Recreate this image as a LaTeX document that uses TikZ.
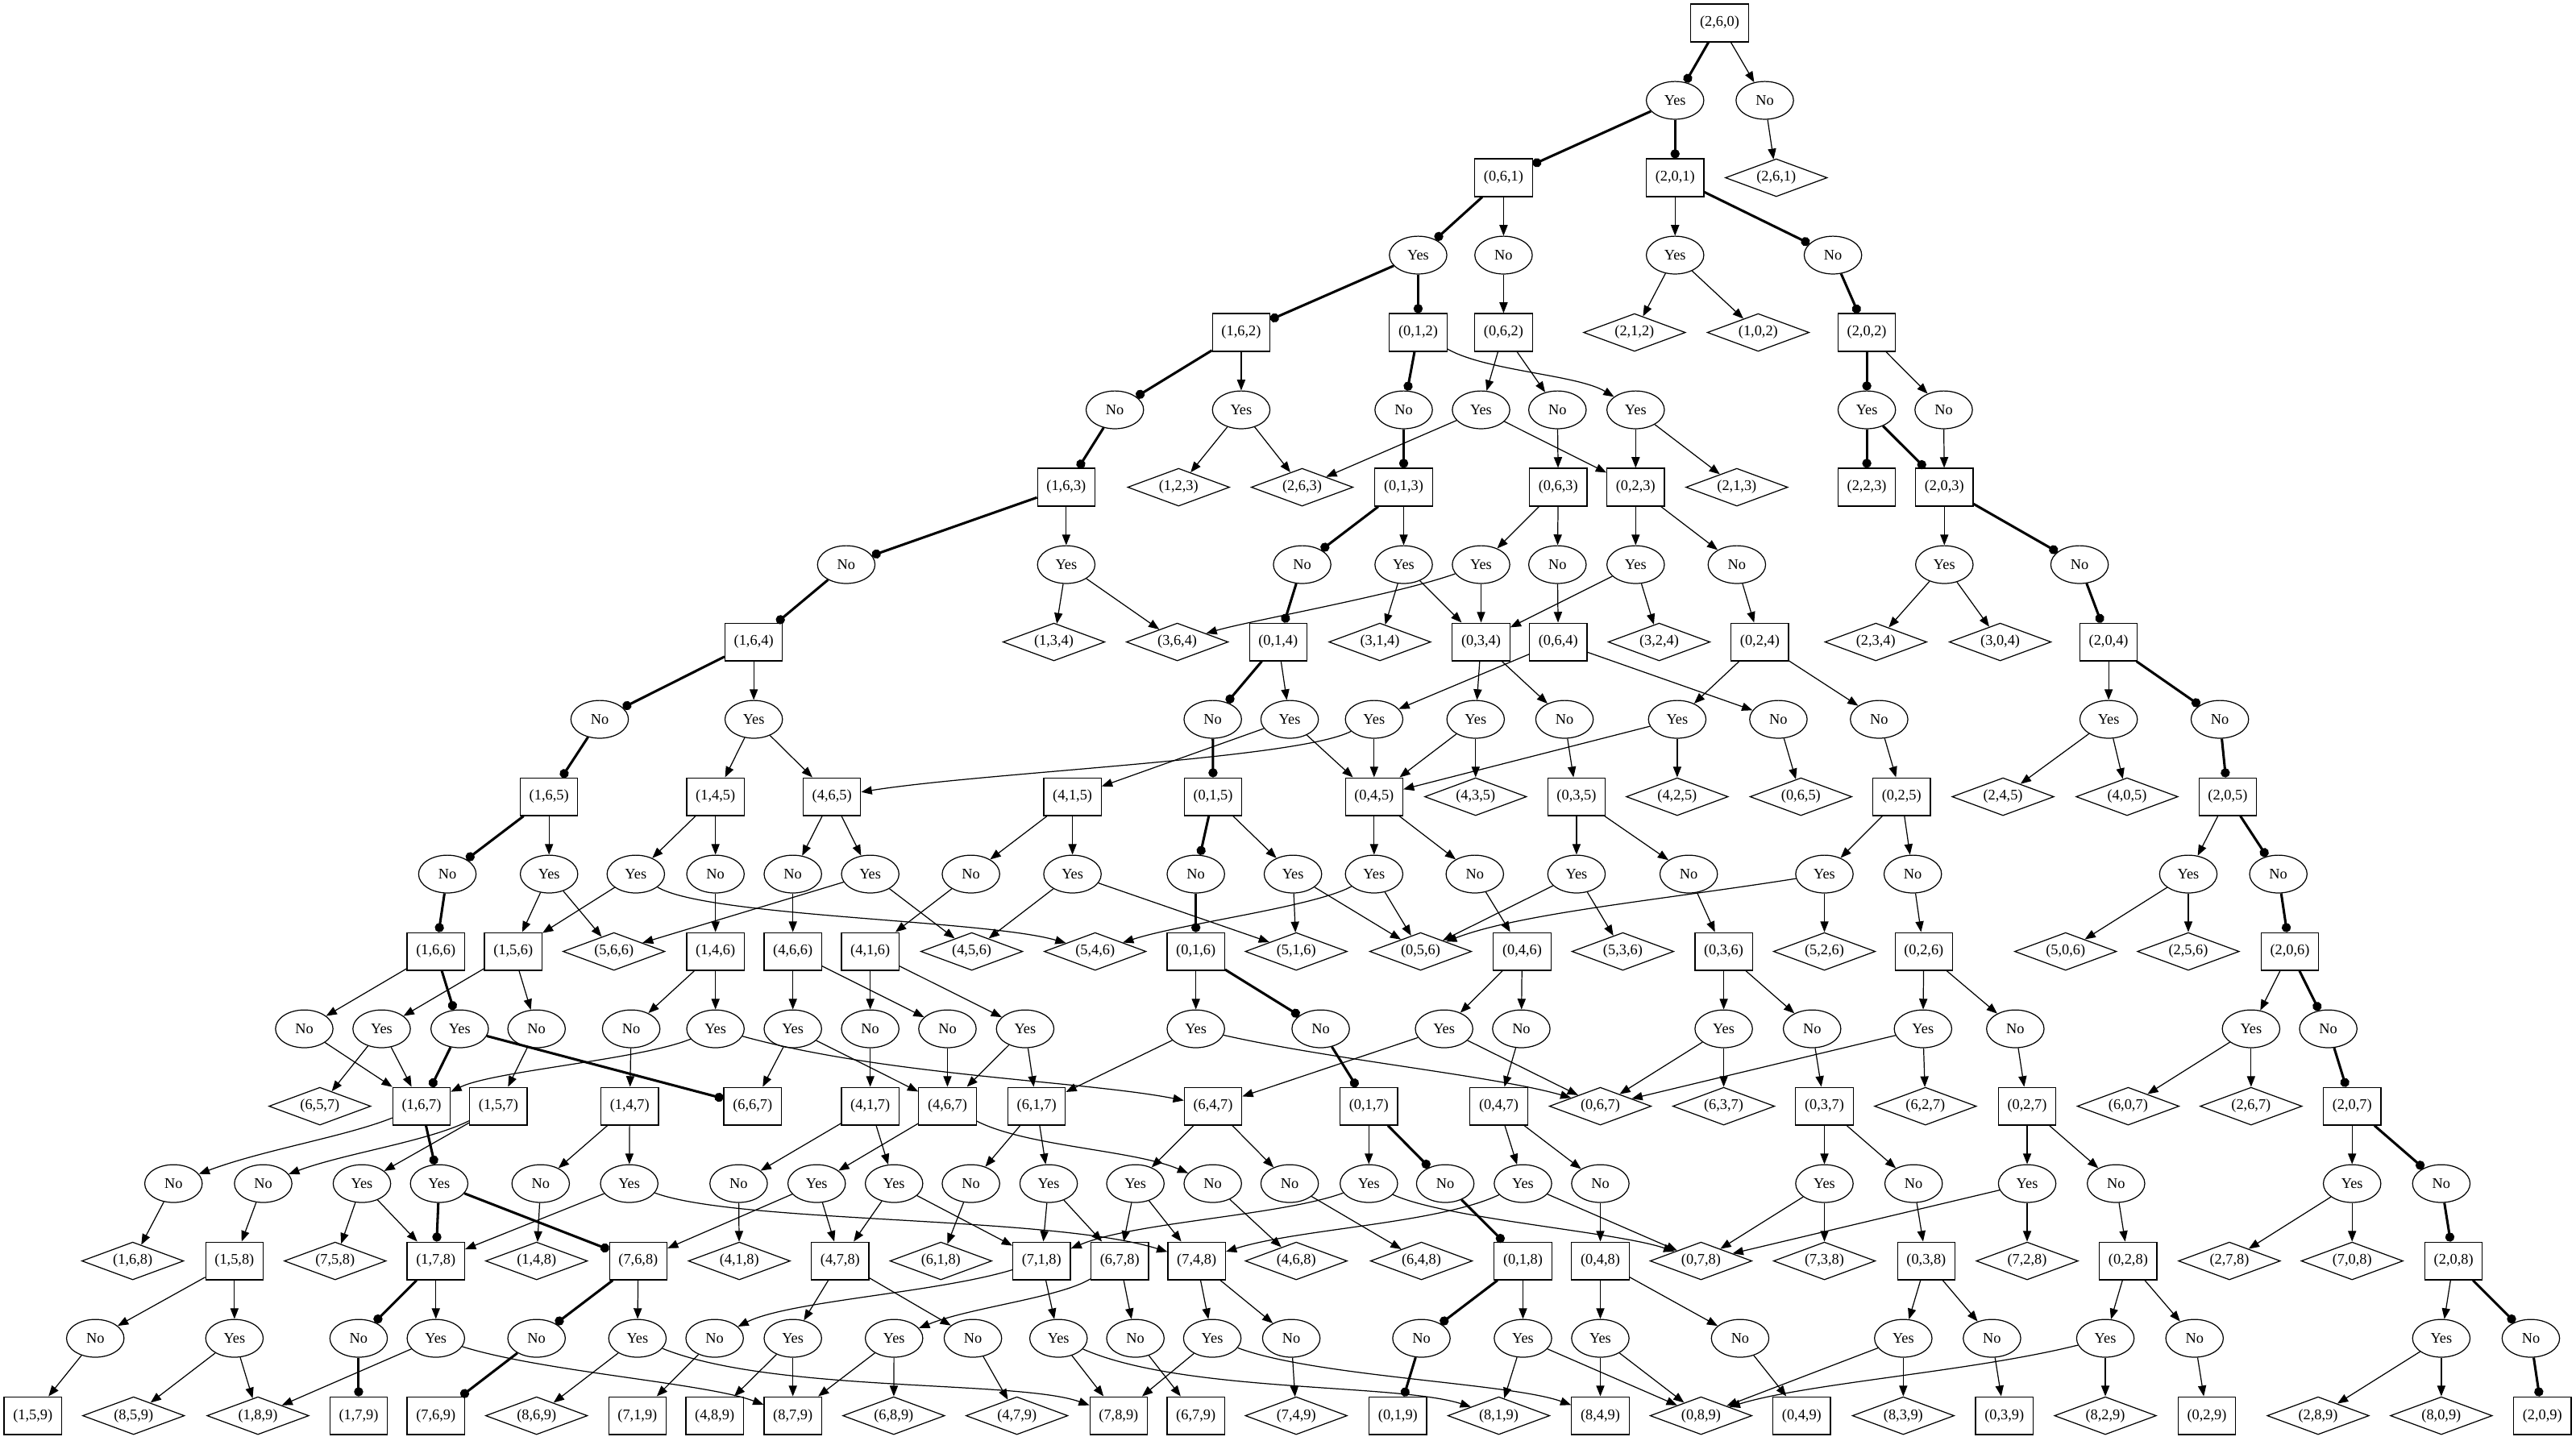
\documentclass[tikz,border=0pt]{standalone}
\usepackage{fontspec}
\setmainfont{Liberation Serif}
\usetikzlibrary{shapes.geometric,arrows.meta}
\begin{document}
\begin{tikzpicture}[x=1pt,y=-1pt,
        font=\fontsize{9}{10}\selectfont,
        statebox/.style={draw,line width=0.6pt,rectangle,minimum width=35pt,minimum height=23pt,inner sep=1pt},
        answer/.style={draw,line width=0.6pt,ellipse,minimum width=35pt,minimum height=23pt,inner sep=0pt},
        leaf/.style={draw,line width=0.6pt,diamond,aspect=2.7,minimum width=62pt,minimum height=23pt,inner sep=0pt},
        move/.style={line width=0.6pt,-{Triangle[length=6.5pt,width=5pt]}},
        bestmove/.style={line width=1.5pt,-{Circle[length=5.5pt]}}]
        \fill[white] (0,0) rectangle (1568,877);
        \node[statebox] (S260) at (1046.7,14) {(2,6,0)};
        \node[answer] (Y260) at (1019.6,61.1) {Yes};
        \node[answer] (N260) at (1074.2,61.1) {No};
        \node[statebox] (S061) at (915.2,108.2) {(0,6,1)};
        \node[statebox] (S201) at (1019.6,108.2) {(2,0,1)};
        \node[leaf] (S261) at (1081.2,108.2) {(2,6,1)};
        \node[answer] (Y061) at (863.2,155.3) {Yes};
        \node[answer] (N061) at (915.2,155.3) {No};
        \node[answer] (Y201) at (1019.6,155.3) {Yes};
        \node[answer] (N201) at (1115.7,155.3) {No};
        \node[statebox] (S162) at (755.5,202.4) {(1,6,2)};
        \node[statebox] (S012) at (863.2,202.4) {(0,1,2)};
        \node[statebox] (S062) at (915.2,202.4) {(0,6,2)};
        \node[leaf] (S212) at (994.9,202.4) {(2,1,2)};
        \node[leaf] (S102) at (1070.2,202.4) {(1,0,2)};
        \node[statebox] (S202) at (1136.3,202.4) {(2,0,2)};
        \node[answer] (N162) at (678.6,249.5) {No};
        \node[answer] (Y162) at (755.5,249.5) {Yes};
        \node[answer] (N012) at (854.4,249.5) {No};
        \node[answer] (Y062) at (901.5,249.5) {Yes};
        \node[answer] (N062) at (948,249.5) {No};
        \node[answer] (Y012) at (995.6,249.5) {Yes};
        \node[answer] (Y202) at (1136.3,249.5) {Yes};
        \node[answer] (N202) at (1183.1,249.5) {No};
        \node[statebox] (S163) at (649,296.6) {(1,6,3)};
        \node[leaf] (S123) at (717.4,296.6) {(1,2,3)};
        \node[leaf] (S263) at (792.6,296.6) {(2,6,3)};
        \node[statebox] (S013) at (854.4,296.6) {(0,1,3)};
        \node[statebox] (S063) at (948.5,296.6) {(0,6,3)};
        \node[statebox] (S023) at (995.6,296.6) {(0,2,3)};
        \node[leaf] (S213) at (1057.2,296.6) {(2,1,3)};
        \node[statebox] (S223) at (1136.3,296.6) {(2,2,3)};
        \node[statebox] (S203) at (1183.5,296.6) {(2,0,3)};
        \node[answer] (N163) at (515.1,343.7) {No};
        \node[answer] (Y163) at (649,343.7) {Yes};
        \node[answer] (N013) at (792.6,343.7) {No};
        \node[answer] (Y013) at (854.4,343.7) {Yes};
        \node[answer] (Y063) at (901.5,343.7) {Yes};
        \node[answer] (N063) at (948,343.7) {No};
        \node[answer] (Y023) at (995.6,343.7) {Yes};
        \node[answer] (N023) at (1057.2,343.7) {No};
        \node[answer] (Y203) at (1183.5,343.7) {Yes};
        \node[answer] (N203) at (1265.8,343.7) {No};
        \node[statebox] (S164) at (458.8,390.8) {(1,6,4)};
        \node[leaf] (S134) at (641.5,390.8) {(1,3,4)};
        \node[leaf] (S364) at (716.6,390.8) {(3,6,4)};
        \node[statebox] (S014) at (778,390.8) {(0,1,4)};
        \node[leaf] (S314) at (839.9,390.8) {(3,1,4)};
        \node[statebox] (S034) at (901.5,390.8) {(0,3,4)};
        \node[statebox] (S064) at (948.5,390.8) {(0,6,4)};
        \node[leaf] (S324) at (1009.9,390.8) {(3,2,4)};
        \node[statebox] (S024) at (1071.2,390.8) {(0,2,4)};
        \node[leaf] (S234) at (1141.8,390.8) {(2,3,4)};
        \node[leaf] (S304) at (1217.5,390.8) {(3,0,4)};
        \node[statebox] (S204) at (1283.5,390.8) {(2,0,4)};
        \node[answer] (N164) at (365,437.9) {No};
        \node[answer] (Y164) at (458.8,437.9) {Yes};
        \node[answer] (N014) at (738.2,437.9) {No};
        \node[answer] (Y014) at (785,437.9) {Yes};
        \node[answer] (Y064) at (836.4,437.9) {Yes};
        \node[answer] (Y034) at (898.2,437.9) {Yes};
        \node[answer] (N034) at (952.3,437.9) {No};
        \node[answer] (Y024) at (1020.9,437.9) {Yes};
        \node[answer] (N064) at (1082.5,437.9) {No};
        \node[answer] (N024) at (1143.8,437.9) {No};
        \node[answer] (Y204) at (1283.5,437.9) {Yes};
        \node[answer] (N204) at (1351.2,437.9) {No};
        \node[statebox] (S165) at (334.2,485) {(1,6,5)};
        \node[statebox] (S145) at (435.5,485) {(1,4,5)};
        \node[statebox] (S465) at (506.4,485) {(4,6,5)};
        \node[statebox] (S415) at (652.8,485) {(4,1,5)};
        \node[statebox] (S015) at (738.4,485) {(0,1,5)};
        \node[statebox] (S045) at (836.4,485) {(0,4,5)};
        \node[leaf] (S435) at (898.2,485) {(4,3,5)};
        \node[statebox] (S035) at (959.6,485) {(0,3,5)};
        \node[leaf] (S425) at (1020.9,485) {(4,2,5)};
        \node[leaf] (S065) at (1096.2,485) {(0,6,5)};
        \node[statebox] (S025) at (1157.5,485) {(0,2,5)};
        \node[leaf] (S245) at (1219.2,485) {(2,4,5)};
        \node[leaf] (S405) at (1294.7,485) {(4,0,5)};
        \node[statebox] (S205) at (1356,485) {(2,0,5)};
        \node[answer] (N165) at (272.3,532.1) {No};
        \node[answer] (Y165) at (334.2,532.1) {Yes};
        \node[answer] (Y145) at (387,532.1) {Yes};
        \node[answer] (N145) at (435.5,532.1) {No};
        \node[answer] (N465) at (482.6,532.1) {No};
        \node[answer] (Y465) at (529.7,532.1) {Yes};
        \node[answer] (N415) at (591,532.1) {No};
        \node[answer] (Y415) at (652.8,532.1) {Yes};
        \node[answer] (N015) at (727.9,532.1) {No};
        \node[answer] (Y015) at (787,532.1) {Yes};
        \node[answer] (Y045) at (836.4,532.1) {Yes};
        \node[answer] (N045) at (897.7,532.1) {No};
        \node[answer] (Y035) at (959.6,532.1) {Yes};
        \node[answer] (N035) at (1027.9,532.1) {No};
        \node[answer] (Y025) at (1110.5,532.1) {Yes};
        \node[answer] (N025) at (1164.3,532.1) {No};
        \node[answer] (Y205) at (1332,532.1) {Yes};
        \node[answer] (N205) at (1386.8,532.1) {No};
        \node[statebox] (S166) at (265.3,579.2) {(1,6,6)};
        \node[statebox] (S156) at (312.4,579.2) {(1,5,6)};
        \node[leaf] (S566) at (373.7,579.2) {(5,6,6)};
        \node[statebox] (S146) at (435.5,579.2) {(1,4,6)};
        \node[statebox] (S466) at (482.6,579.2) {(4,6,6)};
        \node[statebox] (S416) at (529.7,579.2) {(4,1,6)};
        \node[leaf] (S456) at (591.5,579.2) {(4,5,6)};
        \node[leaf] (S546) at (666.6,579.2) {(5,4,6)};
        \node[statebox] (S016) at (727.9,579.2) {(0,1,6)};
        \node[leaf] (S516) at (789,579.2) {(5,1,6)};
        \node[leaf] (S056) at (864.7,579.2) {(0,5,6)};
        \node[statebox] (S046) at (926.5,579.2) {(0,4,6)};
        \node[leaf] (S536) at (987.8,579.2) {(5,3,6)};
        \node[statebox] (S036) at (1049.2,579.2) {(0,3,6)};
        \node[leaf] (S526) at (1110.5,579.2) {(5,2,6)};
        \node[statebox] (S026) at (1171,579.2) {(0,2,6)};
        \node[leaf] (S506) at (1257.3,579.2) {(5,0,6)};
        \node[leaf] (S256) at (1332,579.2) {(2,5,6)};
        \node[statebox] (S206) at (1393.8,579.2) {(2,0,6)};
        \node[answer] (N166) at (185.2,626.3) {No};
        \node[answer] (Y156) at (232.3,626.3) {Yes};
        \node[answer] (Y166) at (279.8,626.3) {Yes};
        \node[answer] (N156) at (326.6,626.3) {No};
        \node[answer] (N146) at (384.2,626.3) {No};
        \node[answer] (Y146) at (435.5,626.3) {Yes};
        \node[answer] (Y466) at (482.6,626.3) {Yes};
        \node[answer] (N416) at (529.7,626.3) {No};
        \node[answer] (N466) at (576.7,626.3) {No};
        \node[answer] (Y416) at (624,626.3) {Yes};
        \node[answer] (Y016) at (727.9,626.3) {Yes};
        \node[answer] (N016) at (803.9,626.3) {No};
        \node[answer] (Y046) at (879,626.3) {Yes};
        \node[answer] (N046) at (926,626.3) {No};
        \node[answer] (Y036) at (1049.2,626.3) {Yes};
        \node[answer] (N036) at (1103,626.3) {No};
        \node[answer] (Y026) at (1170.5,626.3) {Yes};
        \node[answer] (N026) at (1226.7,626.3) {No};
        \node[answer] (Y206) at (1370.2,626.3) {Yes};
        \node[answer] (N206) at (1417.2,626.3) {No};
        \node[leaf] (S657) at (194.7,673.4) {(6,5,7)};
        \node[statebox] (S167) at (256.6,673.4) {(1,6,7)};
        \node[statebox] (S157) at (303.4,673.4) {(1,5,7)};
        \node[statebox] (S147) at (383.3,673.4) {(1,4,7)};
        \node[statebox] (S667) at (458.1,673.4) {(6,6,7)};
        \node[statebox] (S417) at (529.7,673.4) {(4,1,7)};
        \node[statebox] (S467) at (576.7,673.4) {(4,6,7)};
        \node[statebox] (S617) at (631,673.4) {(6,1,7)};
        \node[statebox] (S647) at (738.4,673.4) {(6,4,7)};
        \node[statebox] (S017) at (833.2,673.4) {(0,1,7)};
        \node[statebox] (S047) at (912.3,673.4) {(0,4,7)};
        \node[leaf] (S067) at (974.1,673.4) {(0,6,7)};
        \node[leaf] (S637) at (1049.2,673.4) {(6,3,7)};
        \node[statebox] (S037) at (1110.5,673.4) {(0,3,7)};
        \node[leaf] (S627) at (1172,673.4) {(6,2,7)};
        \node[statebox] (S027) at (1233.9,673.4) {(0,2,7)};
        \node[leaf] (S607) at (1295.4,673.4) {(6,0,7)};
        \node[leaf] (S267) at (1370.2,673.4) {(2,6,7)};
        \node[statebox] (S207) at (1431.7,673.4) {(2,0,7)};
        \node[answer] (N167) at (105.6,720.5) {No};
        \node[answer] (N157) at (160.2,720.5) {No};
        \node[answer] (Y157) at (220.3,720.5) {Yes};
        \node[answer] (Y167) at (267.3,720.5) {Yes};
        \node[answer] (N147) at (329.1,720.5) {No};
        \node[answer] (Y147) at (383,720.5) {Yes};
        \node[answer] (N417) at (449.6,720.5) {No};
        \node[answer] (Y467) at (497.1,720.5) {Yes};
        \node[answer] (Y417) at (544.2,720.5) {Yes};
        \node[answer] (N617) at (591,720.5) {No};
        \node[answer] (Y617) at (638.3,720.5) {Yes};
        \node[answer] (Y647) at (691.1,720.5) {Yes};
        \node[answer] (N467) at (738.2,720.5) {No};
        \node[answer] (N647) at (785,720.5) {No};
        \node[answer] (Y017) at (833.2,720.5) {Yes};
        \node[answer] (N017) at (879.7,720.5) {No};
        \node[answer] (Y047) at (927,720.5) {Yes};
        \node[answer] (N047) at (974.1,720.5) {No};
        \node[answer] (Y037) at (1110.5,720.5) {Yes};
        \node[answer] (N037) at (1164.8,720.5) {No};
        \node[answer] (Y027) at (1233.9,720.5) {Yes};
        \node[answer] (N027) at (1288,720.5) {No};
        \node[answer] (Y207) at (1431.7,720.5) {Yes};
        \node[answer] (N207) at (1486,720.5) {No};
        \node[leaf] (S168) at (80.8,767.6) {(1,6,8)};
        \node[statebox] (S158) at (142.7,767.6) {(1,5,8)};
        \node[leaf] (S758) at (204,767.6) {(7,5,8)};
        \node[statebox] (S178) at (265.3,767.6) {(1,7,8)};
        \node[leaf] (S148) at (326.6,767.6) {(1,4,8)};
        \node[statebox] (S768) at (388.5,767.6) {(7,6,8)};
        \node[leaf] (S418) at (450,767.6) {(4,1,8)};
        \node[statebox] (S478) at (511.4,767.6) {(4,7,8)};
        \node[leaf] (S618) at (572.7,767.6) {(6,1,8)};
        \node[statebox] (S718) at (634,767.6) {(7,1,8)};
        \node[statebox] (S678) at (681.6,767.6) {(6,7,8)};
        \node[statebox] (S748) at (728.4,767.6) {(7,4,8)};
        \node[leaf] (S468) at (789,767.6) {(4,6,8)};
        \node[leaf] (S648) at (865.2,767.6) {(6,4,8)};
        \node[statebox] (S018) at (927,767.6) {(0,1,8)};
        \node[statebox] (S048) at (974.1,767.6) {(0,4,8)};
        \node[leaf] (S078) at (1035.4,767.6) {(0,7,8)};
        \node[leaf] (S738) at (1110.5,767.6) {(7,3,8)};
        \node[statebox] (S038) at (1172.5,767.6) {(0,3,8)};
        \node[leaf] (S728) at (1233.9,767.6) {(7,2,8)};
        \node[statebox] (S028) at (1295.4,767.6) {(0,2,8)};
        \node[leaf] (S278) at (1357,767.6) {(2,7,8)};
        \node[leaf] (S708) at (1431.7,767.6) {(7,0,8)};
        \node[statebox] (S208) at (1493.5,767.6) {(2,0,8)};
        \node[answer] (N158) at (58,814.7) {No};
        \node[answer] (Y158) at (142.7,814.7) {Yes};
        \node[answer] (N178) at (218.3,814.7) {No};
        \node[answer] (Y178) at (265.3,814.7) {Yes};
        \node[answer] (N768) at (326.6,814.7) {No};
        \node[answer] (Y768) at (388,814.7) {Yes};
        \node[answer] (N718) at (435,814.7) {No};
        \node[answer] (Y478) at (482.6,814.7) {Yes};
        \node[answer] (Y678) at (544.2,814.7) {Yes};
        \node[answer] (N478) at (592.2,814.7) {No};
        \node[answer] (Y718) at (644.3,814.7) {Yes};
        \node[answer] (N678) at (691.1,814.7) {No};
        \node[answer] (Y748) at (737.9,814.7) {Yes};
        \node[answer] (N748) at (786,814.7) {No};
        \node[answer] (N018) at (865.2,814.7) {No};
        \node[answer] (Y018) at (927,814.7) {Yes};
        \node[answer] (Y048) at (974.1,814.7) {Yes};
        \node[answer] (N048) at (1059.2,814.7) {No};
        \node[answer] (Y038) at (1158.5,814.7) {Yes};
        \node[answer] (N038) at (1212.5,814.7) {No};
        \node[answer] (Y028) at (1281.5,814.7) {Yes};
        \node[answer] (N028) at (1335.8,814.7) {No};
        \node[answer] (Y208) at (1486,814.7) {Yes};
        \node[answer] (N208) at (1540.5,814.7) {No};
        \node[statebox] (S159) at (20,861.8) {(1,5,9)};
        \node[leaf] (S859) at (81.3,861.8) {(8,5,9)};
        \node[leaf] (S189) at (157,861.8) {(1,8,9)};
        \node[statebox] (S179) at (218.3,861.8) {(1,7,9)};
        \node[statebox] (S769) at (265.3,861.8) {(7,6,9)};
        \node[leaf] (S869) at (326.6,861.8) {(8,6,9)};
        \node[statebox] (S719) at (388,861.8) {(7,1,9)};
        \node[statebox] (S489) at (435,861.8) {(4,8,9)};
        \node[statebox] (S879) at (482.6,861.8) {(8,7,9)};
        \node[leaf] (S689) at (544,861.8) {(6,8,9)};
        \node[leaf] (S479) at (619,861.8) {(4,7,9)};
        \node[statebox] (S789) at (680.9,861.8) {(7,8,9)};
        \node[statebox] (S679) at (727.9,861.8) {(6,7,9)};
        \node[leaf] (S749) at (789,861.8) {(7,4,9)};
        \node[statebox] (S019) at (850.9,861.8) {(0,1,9)};
        \node[leaf] (S819) at (912.3,861.8) {(8,1,9)};
        \node[statebox] (S849) at (974.1,861.8) {(8,4,9)};
        \node[leaf] (S089) at (1035.4,861.8) {(0,8,9)};
        \node[statebox] (S049) at (1096.7,861.8) {(0,4,9)};
        \node[leaf] (S839) at (1158.5,861.8) {(8,3,9)};
        \node[statebox] (S039) at (1220,861.8) {(0,3,9)};
        \node[leaf] (S829) at (1281.5,861.8) {(8,2,9)};
        \node[statebox] (S029) at (1343.3,861.8) {(0,2,9)};
        \node[leaf] (S289) at (1411,861.8) {(2,8,9)};
        \node[leaf] (S809) at (1486,861.8) {(8,0,9)};
        \node[statebox] (S209) at (1547.5,861.8) {(2,0,9)};
        \draw[bestmove] (S260) to (Y260);
        \draw[move] (S260) to (N260);
        \draw[bestmove] (Y260) to (S061);
        \draw[bestmove] (Y260) to (S201);
        \draw[move] (N260) to (S261);
        \draw[bestmove] (S061) to (Y061);
        \draw[move] (S061) to (N061);
        \draw[move] (S201) to (Y201);
        \draw[bestmove] (S201) to (N201);
        \draw[bestmove] (Y061) to (S162);
        \draw[bestmove] (Y061) to (S012);
        \draw[move] (N061) to (S062);
        \draw[move] (Y201) to (S212);
        \draw[move] (Y201) to (S102);
        \draw[bestmove] (N201) to (S202);
        \draw[bestmove] (S162) to (N162);
        \draw[move] (S162) to (Y162);
        \draw[bestmove] (S012) to (N012);
        \draw[move] (S012) .. controls (905,226) and (960,228) .. (Y012);
        \draw[move] (S062) to (Y062);
        \draw[move] (S062) to (N062);
        \draw[bestmove] (S202) to (Y202);
        \draw[move] (S202) to (N202);
        \draw[bestmove] (N162) to (S163);
        \draw[move] (Y162) to (S123);
        \draw[move] (Y162) to (S263);
        \draw[bestmove] (N012) to (S013);
        \draw[move] (Y062) to (S263);
        \draw[move] (Y062) to (S023);
        \draw[move] (N062) to (S063);
        \draw[move] (Y012) to (S023);
        \draw[move] (Y012) to (S213);
        \draw[bestmove] (Y202) to (S223);
        \draw[bestmove] (Y202) to (S203);
        \draw[move] (N202) to (S203);
        \draw[bestmove] (S163) to (N163);
        \draw[move] (S163) to (Y163);
        \draw[bestmove] (S013) to (N013);
        \draw[move] (S013) to (Y013);
        \draw[move] (S063) to (Y063);
        \draw[move] (S063) to (N063);
        \draw[move] (S023) to (Y023);
        \draw[move] (S023) to (N023);
        \draw[move] (S203) to (Y203);
        \draw[bestmove] (S203) to (N203);
        \draw[bestmove] (N163) to (S164);
        \draw[move] (Y163) to (S134);
        \draw[move] (Y163) to (S364);
        \draw[bestmove] (N013) to (S014);
        \draw[move] (Y013) to (S314);
        \draw[move] (Y013) to (S034);
        \draw[move] (Y063) .. controls (850,362) and (760,378) .. (S364);
        \draw[move] (Y063) to (S034);
        \draw[move] (N063) to (S064);
        \draw[move] (Y023) to (S034);
        \draw[move] (Y023) to (S324);
        \draw[move] (N023) to (S024);
        \draw[move] (Y203) to (S234);
        \draw[move] (Y203) to (S304);
        \draw[bestmove] (N203) to (S204);
        \draw[bestmove] (S164) to (N164);
        \draw[move] (S164) to (Y164);
        \draw[bestmove] (S014) to (N014);
        \draw[move] (S014) to (Y014);
        \draw[move] (S034) to (Y034);
        \draw[move] (S034) to (N034);
        \draw[move] (S064) to (Y064);
        \draw[move] (S064) to (N064);
        \draw[move] (S024) to (Y024);
        \draw[move] (S024) to (N024);
        \draw[move] (S204) to (Y204);
        \draw[bestmove] (S204) to (N204);
        \draw[bestmove] (N164) to (S165);
        \draw[move] (Y164) to (S145);
        \draw[move] (Y164) to (S465);
        \draw[bestmove] (N014) to (S015);
        \draw[move] (Y014) to (S415);
        \draw[move] (Y014) to (S045);
        \draw[move] (Y064) .. controls (790,462) and (600,470) .. (S465);
        \draw[move] (Y064) to (S045);
        \draw[move] (Y034) to (S045);
        \draw[move] (Y034) to (S435);
        \draw[move] (N034) to (S035);
        \draw[move] (Y024) to (S045);
        \draw[move] (Y024) to (S425);
        \draw[move] (N064) to (S065);
        \draw[move] (N024) to (S025);
        \draw[move] (Y204) to (S245);
        \draw[move] (Y204) to (S405);
        \draw[bestmove] (N204) to (S205);
        \draw[bestmove] (S165) to (N165);
        \draw[move] (S165) to (Y165);
        \draw[move] (S145) to (Y145);
        \draw[move] (S145) to (N145);
        \draw[move] (S465) to (N465);
        \draw[move] (S465) to (Y465);
        \draw[move] (S415) to (N415);
        \draw[move] (S415) to (Y415);
        \draw[bestmove] (S015) to (N015);
        \draw[move] (S015) to (Y015);
        \draw[move] (S045) to (Y045);
        \draw[move] (S045) to (N045);
        \draw[move] (S035) to (Y035);
        \draw[move] (S035) to (N035);
        \draw[move] (S025) to (Y025);
        \draw[move] (S025) to (N025);
        \draw[move] (S205) to (Y205);
        \draw[bestmove] (S205) to (N205);
        \draw[bestmove] (N165) to (S166);
        \draw[move] (Y165) to (S156);
        \draw[move] (Y165) to (S566);
        \draw[move] (Y145) to (S156);
        \draw[move] (Y145) .. controls (430,558) and (600,560) .. (S546);
        \draw[move] (N145) to (S146);
        \draw[move] (N465) to (S466);
        \draw[move] (Y465) to (S566);
        \draw[move] (Y465) to (S456);
        \draw[move] (N415) to (S416);
        \draw[move] (Y415) to (S456);
        \draw[move] (Y415) to (S516);
        \draw[bestmove] (N015) to (S016);
        \draw[move] (Y015) to (S516);
        \draw[move] (Y015) to (S056);
        \draw[move] (Y045) .. controls (800,552) and (720,562) .. (S546);
        \draw[move] (Y045) to (S056);
        \draw[move] (N045) to (S046);
        \draw[move] (Y035) to (S056);
        \draw[move] (Y035) to (S536);
        \draw[move] (N035) to (S036);
        \draw[move] (Y025) .. controls (1010,548) and (925,556) .. (S056);
        \draw[move] (Y025) to (S526);
        \draw[move] (N025) to (S026);
        \draw[move] (Y205) to (S506);
        \draw[move] (Y205) to (S256);
        \draw[bestmove] (N205) to (S206);
        \draw[move] (S166) to (N166);
        \draw[bestmove] (S166) to (Y166);
        \draw[move] (S156) to (Y156);
        \draw[move] (S156) to (N156);
        \draw[move] (S146) to (N146);
        \draw[move] (S146) to (Y146);
        \draw[move] (S466) to (Y466);
        \draw[move] (S466) to (N466);
        \draw[move] (S416) to (N416);
        \draw[move] (S416) to (Y416);
        \draw[move] (S016) to (Y016);
        \draw[bestmove] (S016) to (N016);
        \draw[move] (S046) to (Y046);
        \draw[move] (S046) to (N046);
        \draw[move] (S036) to (Y036);
        \draw[move] (S036) to (N036);
        \draw[move] (S026) to (Y026);
        \draw[move] (S026) to (N026);
        \draw[move] (S206) to (Y206);
        \draw[bestmove] (S206) to (N206);
        \draw[move] (N166) to (S167);
        \draw[move] (Y156) to (S657);
        \draw[move] (Y156) to (S167);
        \draw[bestmove] (Y166) to (S167);
        \draw[bestmove] (Y166) to (S667);
        \draw[move] (N156) to (S157);
        \draw[move] (N146) to (S147);
        \draw[move] (Y146) .. controls (390,645) and (300,652) .. (S167);
        \draw[move] (Y146) .. controls (540,655) and (660,658) .. (S647);
        \draw[move] (Y466) to (S667);
        \draw[move] (Y466) to (S467);
        \draw[move] (N416) to (S417);
        \draw[move] (N466) to (S467);
        \draw[move] (Y416) to (S467);
        \draw[move] (Y416) to (S617);
        \draw[move] (Y016) to (S617);
        \draw[move] (Y016) .. controls (810,645) and (910,655) .. (S067);
        \draw[bestmove] (N016) to (S017);
        \draw[move] (Y046) to (S647);
        \draw[move] (Y046) to (S067);
        \draw[move] (N046) to (S047);
        \draw[move] (Y036) to (S067);
        \draw[move] (Y036) to (S637);
        \draw[move] (N036) to (S037);
        \draw[move] (Y026) to (S067);
        \draw[move] (Y026) to (S627);
        \draw[move] (N026) to (S027);
        \draw[move] (Y206) to (S607);
        \draw[move] (Y206) to (S267);
        \draw[bestmove] (N206) to (S207);
        \draw[move] (S167) .. controls (210,692) and (160,700) .. (N167);
        \draw[bestmove] (S167) to (Y167);
        \draw[move] (S157) .. controls (260,695) and (210,702) .. (N157);
        \draw[move] (S157) to (Y157);
        \draw[move] (S147) to (N147);
        \draw[move] (S147) to (Y147);
        \draw[move] (S417) to (N417);
        \draw[move] (S417) to (Y417);
        \draw[move] (S467) to (Y467);
        \draw[move] (S467) .. controls (625,698) and (690,700) .. (N467);
        \draw[move] (S617) to (N617);
        \draw[move] (S617) to (Y617);
        \draw[move] (S647) to (Y647);
        \draw[move] (S647) to (N647);
        \draw[move] (S017) to (Y017);
        \draw[bestmove] (S017) to (N017);
        \draw[move] (S047) to (Y047);
        \draw[move] (S047) to (N047);
        \draw[move] (S037) to (Y037);
        \draw[move] (S037) to (N037);
        \draw[move] (S027) to (Y027);
        \draw[move] (S027) to (N027);
        \draw[move] (S207) to (Y207);
        \draw[bestmove] (S207) to (N207);
        \draw[move] (N167) to (S168);
        \draw[move] (N157) to (S158);
        \draw[move] (Y157) to (S758);
        \draw[move] (Y157) to (S178);
        \draw[bestmove] (Y167) to (S178);
        \draw[bestmove] (Y167) to (S768);
        \draw[move] (N147) to (S148);
        \draw[move] (Y147) to (S178);
        \draw[move] (Y147) .. controls (450,745) and (640,740) .. (S748);
        \draw[move] (N417) to (S418);
        \draw[move] (Y467) to (S768);
        \draw[move] (Y467) to (S478);
        \draw[move] (Y417) to (S478);
        \draw[move] (Y417) to (S718);
        \draw[move] (N617) to (S618);
        \draw[move] (Y617) to (S718);
        \draw[move] (Y617) to (S678);
        \draw[move] (Y647) to (S678);
        \draw[move] (Y647) to (S748);
        \draw[move] (N467) to (S468);
        \draw[move] (N647) to (S648);
        \draw[move] (Y017) .. controls (780,740) and (690,744) .. (S718);
        \draw[move] (Y017) .. controls (880,742) and (985,750) .. (S078);
        \draw[bestmove] (N017) to (S018);
        \draw[move] (Y047) .. controls (875,745) and (790,748) .. (S748);
        \draw[move] (Y047) to (S078);
        \draw[move] (N047) to (S048);
        \draw[move] (Y037) to (S078);
        \draw[move] (Y037) to (S738);
        \draw[move] (N037) to (S038);
        \draw[move] (Y027) to (S078);
        \draw[move] (Y027) to (S728);
        \draw[move] (N027) to (S028);
        \draw[move] (Y207) to (S278);
        \draw[move] (Y207) to (S708);
        \draw[bestmove] (N207) to (S208);
        \draw[move] (S158) to (N158);
        \draw[move] (S158) to (Y158);
        \draw[bestmove] (S178) to (N178);
        \draw[move] (S178) to (Y178);
        \draw[bestmove] (S768) to (N768);
        \draw[move] (S768) to (Y768);
        \draw[move] (S478) to (Y478);
        \draw[move] (S478) to (N478);
        \draw[move] (S718) .. controls (570,787) and (480,792) .. (N718);
        \draw[move] (S718) to (Y718);
        \draw[move] (S678) .. controls (645,790) and (590,796) .. (Y678);
        \draw[move] (S678) to (N678);
        \draw[move] (S748) to (Y748);
        \draw[move] (S748) to (N748);
        \draw[bestmove] (S018) to (N018);
        \draw[move] (S018) to (Y018);
        \draw[move] (S048) to (Y048);
        \draw[move] (S048) to (N048);
        \draw[move] (S038) to (Y038);
        \draw[move] (S038) to (N038);
        \draw[move] (S028) to (Y028);
        \draw[move] (S028) to (N028);
        \draw[move] (S208) to (Y208);
        \draw[bestmove] (S208) to (N208);
        \draw[move] (N158) to (S159);
        \draw[move] (Y158) to (S859);
        \draw[move] (Y158) to (S189);
        \draw[bestmove] (N178) to (S179);
        \draw[move] (Y178) to (S189);
        \draw[move] (Y178) .. controls (330,835) and (430,842) .. (S879);
        \draw[bestmove] (N768) to (S769);
        \draw[move] (Y768) to (S869);
        \draw[move] (Y768) .. controls (470,848) and (620,840) .. (S789);
        \draw[move] (N718) to (S719);
        \draw[move] (Y478) to (S489);
        \draw[move] (Y478) to (S879);
        \draw[move] (Y678) to (S879);
        \draw[move] (Y678) to (S689);
        \draw[move] (N478) to (S479);
        \draw[move] (Y718) to (S789);
        \draw[move] (Y718) .. controls (720,848) and (850,842) .. (S819);
        \draw[move] (N678) to (S679);
        \draw[move] (Y748) to (S789);
        \draw[move] (Y748) .. controls (800,838) and (920,842) .. (S849);
        \draw[move] (N748) to (S749);
        \draw[bestmove] (N018) to (S019);
        \draw[move] (Y018) to (S819);
        \draw[move] (Y018) to (S089);
        \draw[move] (Y048) to (S849);
        \draw[move] (Y048) to (S089);
        \draw[move] (N048) to (S049);
        \draw[move] (Y038) to (S089);
        \draw[move] (Y038) to (S839);
        \draw[move] (N038) to (S039);
        \draw[move] (Y028) .. controls (1200,835) and (1100,842) .. (S089);
        \draw[move] (Y028) to (S829);
        \draw[move] (N028) to (S029);
        \draw[move] (Y208) to (S289);
        \draw[move] (Y208) to (S809);
        \draw[bestmove] (N208) to (S209);
    \end{tikzpicture}
\end{document}
